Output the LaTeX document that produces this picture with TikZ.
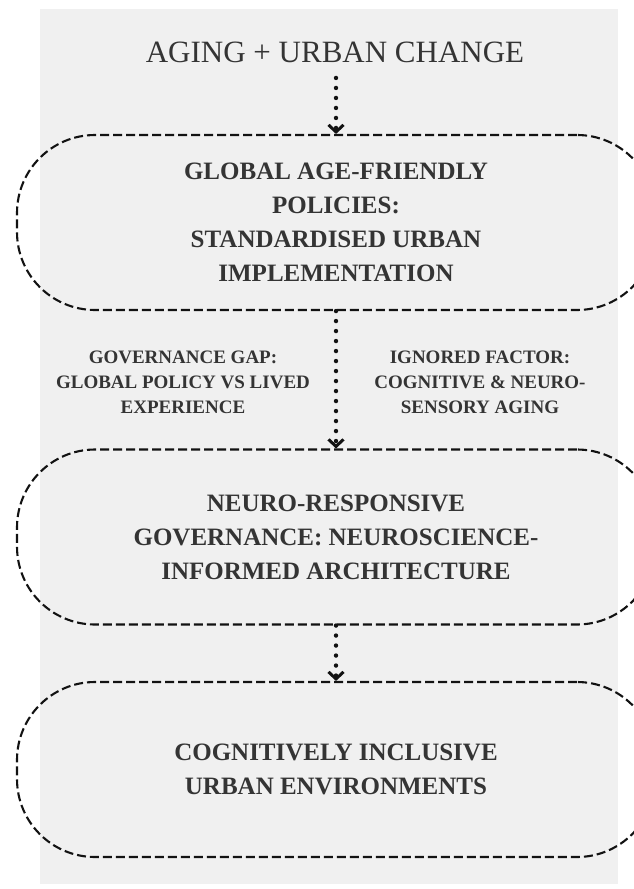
\documentclass[tikz,border=0pt]{standalone}
\usepackage{fontspec}
\setmainfont{Liberation Serif}
\usetikzlibrary{arrows.meta}
\definecolor{PanelGray}{RGB}{240, 240, 240}
\definecolor{InkGray}{RGB}{52, 52, 52}
\definecolor{LineBlack}{RGB}{18, 18, 18}

\begin{document}
\begin{tikzpicture}[
    x=1pt, y=-1pt,
    stage/.style={draw=LineBlack, line width=2.1pt, dash pattern=on 9pt off 4pt, rounded corners=78pt, minimum width=638pt, minimum height=175pt, align=center, text=InkGray, font=\fontsize{25}{34}\selectfont\bfseries},
    note/.style={align=center, text=InkGray, font=\fontsize{19}{25}\selectfont\bfseries},
    flow/.style={-{Straight Barb[length=7pt, width=15pt, line width=3pt]}, LineBlack, line width=4.4pt, line cap=round, dash pattern=on 0pt off 10pt}
  ]
    \useasboundingbox (0, 0) rectangle (633, 889);
    \fill[PanelGray] (40, 9) rectangle (618, 884);

    % Title
    \node[text=InkGray, font=\fontsize{31}{36}\selectfont] (title) at (335, 52) {AGING + URBAN CHANGE};

    % Stages
    \node[stage] (policy) at (336, 222.5) {GLOBAL AGE-FRIENDLY\\POLICIES:\\STANDARDISED URBAN\\IMPLEMENTATION};
    \node[stage] (neuro) at (336, 537) {NEURO-RESPONSIVE\\GOVERNANCE: NEUROSCIENCE-\\INFORMED ARCHITECTURE};
    \node[stage] (outcome) at (336, 769.5) {COGNITIVELY INCLUSIVE\\URBAN ENVIRONMENTS};

    % Side notes
    \node[note] (gap) at (183, 382) {GOVERNANCE GAP:\\GLOBAL POLICY VS LIVED\\EXPERIENCE};
    \node[note] (factor) at (480, 382) {IGNORED FACTOR:\\COGNITIVE \& NEURO-\\SENSORY AGING};

    % Connections
    \draw[flow, shorten <=12pt] (title.south -| policy.north) -- (policy.north);
    \draw[flow] (policy.south) -- (neuro.north);
    \draw[flow] (neuro.south) -- (outcome.north);
  \end{tikzpicture}
\end{document}
